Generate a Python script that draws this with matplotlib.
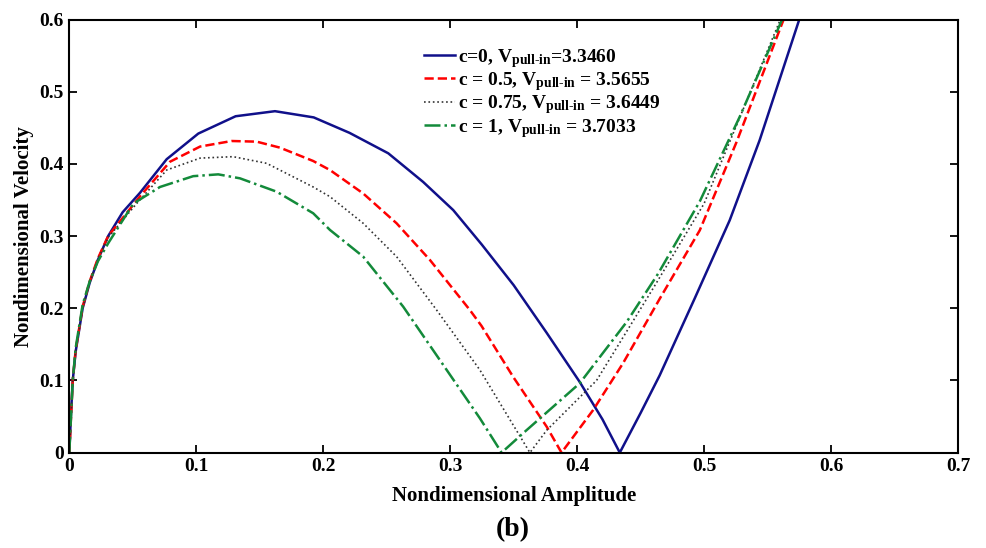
import matplotlib.pyplot as plt

# 数据：无量纲振幅 vs 无量纲速度
amp_c0 = [0, 0.0015, 0.0027, 0.005, 0.0105, 0.016, 0.0225, 0.0306, 0.042, 0.0557, 0.0767,
          0.1016, 0.131, 0.162, 0.1925, 0.2207, 0.2512, 0.2787, 0.3024, 0.325, 0.35,
          0.376, 0.402, 0.42, 0.4336, 0.45, 0.465, 0.4927, 0.5202, 0.5438,
          0.5746, 0.585]
vel_c0 = [0, 0.06, 0.1, 0.14, 0.2, 0.235, 0.267, 0.3, 0.333, 0.36, 0.4065,
          0.442, 0.466, 0.473, 0.4644, 0.443, 0.4147, 0.375, 0.336, 0.288, 0.232,
          0.166, 0.098, 0.046, 0.0, 0.055, 0.107, 0.214, 0.322, 0.433,
          0.598, 0.65]

amp_c05 = [0, 0.0027, 0.005, 0.0105, 0.016, 0.0225, 0.0306, 0.0557, 0.0793, 0.103, 0.1279,
           0.1476, 0.1659, 0.1921, 0.2053, 0.2315, 0.2578, 0.284, 0.3155, 0.3247, 0.3496,
           0.376, 0.3877, 0.4126, 0.4362, 0.465, 0.4966, 0.5255, 0.5622, 0.575]
vel_c05 = [0, 0.1, 0.142, 0.202, 0.237, 0.269, 0.3, 0.355, 0.403, 0.424, 0.4317,
           0.4308, 0.4225, 0.404, 0.3915, 0.359, 0.3177, 0.267, 0.1976, 0.1755, 0.105,
           0.036, 0.0, 0.059, 0.124, 0.213, 0.308, 0.43, 0.598, 0.65]

amp_c075 = [0, 0.0027, 0.005, 0.0105, 0.016, 0.0225, 0.0306, 0.053, 0.0767, 0.103, 0.129,
            0.1554, 0.1921, 0.2053, 0.2315, 0.2578, 0.2893, 0.3234, 0.3628, 0.376, 0.4153,
            0.46, 0.5, 0.5596, 0.575]
vel_c075 = [0, 0.1, 0.142, 0.2, 0.236, 0.268, 0.298, 0.345, 0.3915, 0.408, 0.41,
            0.4008, 0.368, 0.3546, 0.3177, 0.2715, 0.1976, 0.1145, 0.0, 0.031, 0.1,
            0.228, 0.345, 0.598, 0.65]

amp_c1 = [0, 0.0027, 0.005, 0.0105, 0.016, 0.0225, 0.0306, 0.0504, 0.0714, 0.0976, 0.1173,
          0.1344, 0.1633, 0.1921, 0.2053, 0.2315, 0.263, 0.3234, 0.3405, 0.3575, 0.402,
          0.439, 0.4638, 0.4966, 0.528, 0.561, 0.575]
vel_c1 = [0, 0.1, 0.145, 0.205, 0.237, 0.265, 0.29, 0.345, 0.368, 0.383, 0.3855,
          0.38, 0.3615, 0.3316, 0.3085, 0.2715, 0.2022, 0.0476, 0.0, 0.027, 0.096,
          0.181, 0.248, 0.348, 0.465, 0.598, 0.65]

labels = [
    r"c=0, V$_{\text{pull-in}}$=3.3460",
    r"c = 0.5, V$_{\text{pull-in}}$ = 3.5655",
    r"c = 0.75, V$_{\text{pull-in}}$ = 3.6449",
    r"c = 1, V$_{\text{pull-in}}$ = 3.7033",
]

plt.rcParams["font.family"] = "Liberation Serif"
plt.rcParams["font.weight"] = "bold"
plt.rcParams["mathtext.fontset"] = "custom"
plt.rcParams["mathtext.rm"] = "Liberation Serif:bold"
plt.rcParams["mathtext.it"] = "Liberation Serif:bold"
plt.rcParams["mathtext.bf"] = "Liberation Serif:bold"

fig = plt.figure(figsize=(9.86, 5.48), dpi=100)
ax = fig.add_axes([0.0703, 0.174, 0.9013, 0.7904])

ax.plot(amp_c0, vel_c0, "-", color="#10108a", lw=1.8, label=labels[0])
ax.plot(amp_c05, vel_c05, "--", color="#ff0000", lw=1.8, label=labels[1])
ax.plot(amp_c075, vel_c075, ":", color="#333333", lw=1.2, label=labels[2])
ax.plot(amp_c1, vel_c1, "-.", color="#138a3a", lw=1.8, label=labels[3])

ax.set_xlim(0, 0.7)
ax.set_ylim(0, 0.6)
ax.set_xticks([0, 0.1, 0.2, 0.3, 0.4, 0.5, 0.6, 0.7])
ax.set_xticklabels(["0", "0.1", "0.2", "0.3", "0.4", "0.5", "0.6", "0.7"])
ax.set_yticks([0, 0.1, 0.2, 0.3, 0.4, 0.5, 0.6])
ax.set_yticklabels(["0", "0.1", "0.2", "0.3", "0.4", "0.5", "0.6"])
ax.tick_params(direction="in", top=True, right=True, length=6, width=1.3,
               labelsize=14, pad=4)
for s in ax.spines.values():
    s.set_linewidth(1.5)

ax.set_xlabel("Nondimensional Amplitude", fontsize=15, fontweight="bold", labelpad=8)
ax.set_ylabel("Nondimensional Velocity", fontsize=15, fontweight="bold", labelpad=4)

ax.legend(loc="upper left", bbox_to_anchor=(0.39, 0.955), frameon=False,
          fontsize=14, handlelength=1.6, handletextpad=0.15, labelspacing=0.02,
          borderaxespad=0)

fig.text(0.52, 0.022, "(b)", fontsize=20, fontweight="bold", ha="center")

fig.savefig("out.png", dpi=100)
